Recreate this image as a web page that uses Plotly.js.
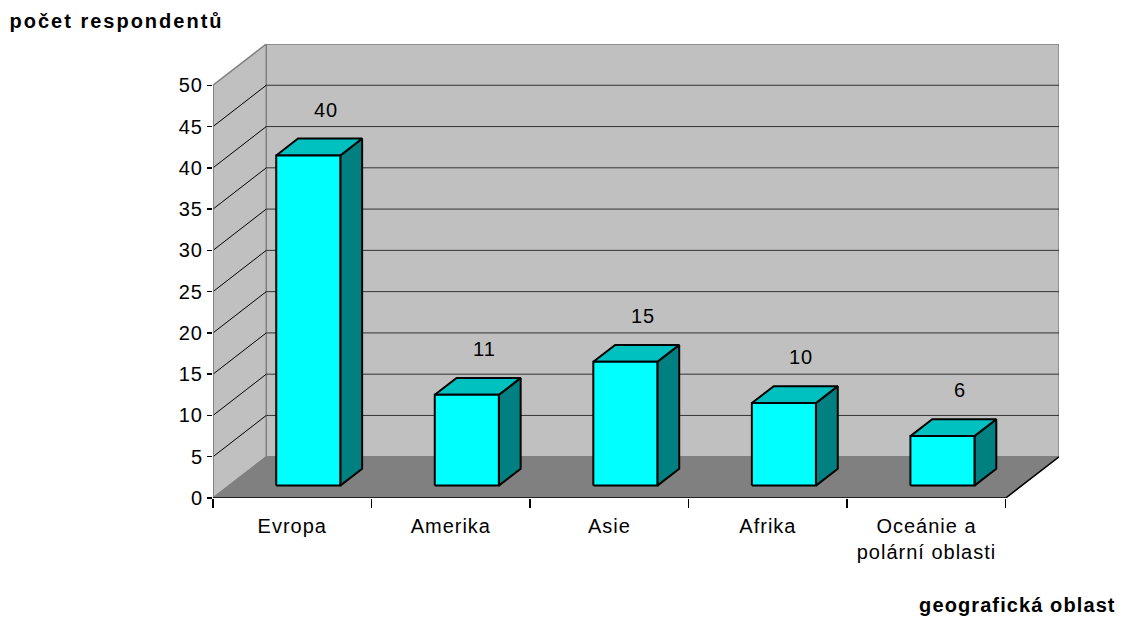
<!DOCTYPE html>
<html><head><meta charset="utf-8">
<script src="https://cdn.plot.ly/plotly-3.0.1.min.js"></script>
<style>
html,body{margin:0;padding:0;background:#fff}
.xtick text, .ytick text, .annotation-text { letter-spacing: 1px; }
.annotation.ttl1 .annotation-text { letter-spacing: 2px; }
.annotation.ttl2 .annotation-text { letter-spacing: 1.1px; }
</style>
</head><body><div id="chart" style="width:1124px;height:617px"></div>
<script>
// ---- data ----
const categories = ['Evropa', 'Amerika', 'Asie', 'Afrika', 'Oceánie a<br>polární oblasti'];
const values = [40, 11, 15, 10, 6];
const yTickValues = [0, 5, 10, 15, 20, 25, 30, 35, 40, 45, 50];
const yAxisTitle = 'počet respondentů';
const xAxisTitle = 'geografická oblast';

// ---- 3D look (axis units) ----
const yMax = 50;
const DX = 0.336, DY = 5;          // depth of the box
const F0 = 0.3, F1 = 0.71, BW = 0.404;
const n = categories.length;
const left = -0.5, right = n - 0.5;
const FONT = 'Liberation Sans, Arial, sans-serif';

const traces = [];
function poly(xs, ys, fill, line, lw) {
  traces.push({type: 'scatter', mode: 'lines', x: [...xs, xs[0]], y: [...ys, ys[0]],
    fill: 'toself', fillcolor: fill, line: {color: line, width: lw},
    hoverinfo: 'skip', showlegend: false});
}
function seg(x0, y0, x1, y1, color, w) {
  traces.push({type: 'scatter', mode: 'lines', x: [x0, x1], y: [y0, y1],
    line: {color: color, width: w}, hoverinfo: 'skip', showlegend: false});
}

// walls & floor
poly([left + DX, right + DX, right + DX, left + DX], [DY, DY, yMax + DY, yMax + DY], '#C0C0C0', '#808080', 1.5);
poly([left, left + DX, left + DX, left], [0, DY, yMax + DY, yMax], '#C0C0C0', '#808080', 1.5);
poly([left, right, right + DX, left + DX], [0, 0, DY, DY], '#808080', '#808080', 1);
yTickValues.forEach(v => {
  if (v > 0 && v < yMax) {
    seg(left + DX, v + DY, right + DX, v + DY, '#333333', 1);
    seg(left, v, left + DX, v + DY, '#000000', 1);
  }
});
seg(left + DX, DY, right + DX, DY, '#808080', 1);
seg(left, 0, left, yMax, '#808080', 1.5);
seg(left, 0, right, 0, '#000000', 1.5);
seg(right, 0, right + DX, DY, '#000000', 1.5);

// bars
values.forEach((v, i) => {
  const xl0 = i + F0 * DX - BW / 2, xr0 = xl0 + BW;
  const xl1 = xl0 + (F1 - F0) * DX, xr1 = xr0 + (F1 - F0) * DX;
  const y0 = F0 * DY, y1 = F1 * DY;
  poly([xr0, xr1, xr1, xr0], [y0, y1, v + y1, v + y0], '#008080', '#000000', 2);
  poly([xl0, xr0, xr1, xl1], [v + y0, v + y0, v + y1, v + y1], '#00C0C0', '#000000', 2);
  poly([xl0, xr0, xr0, xl0], [y0, y0, v + y0, v + y0], '#00FFFF', '#000000', 2);
});

// dummy trace for boundary tick axis
traces.push({type: 'scatter', mode: 'markers', x: [0], y: [0], xaxis: 'x2', marker: {opacity: 0}, hoverinfo: 'skip', showlegend: false});

const boundaries = [];
for (let k = 0; k <= n; k++) boundaries.push(k - 0.5);

const annotations = values.map((v, i) => ({
  x: i + 0.63 * DX, y: v + F1 * DY, xref: 'x', yref: 'y', text: String(v),
  showarrow: false, yshift: 29, font: {family: FONT, size: 20, color: '#000'}
}));
const W = 846.3, H = 454;
annotations.push({xref: 'paper', yref: 'paper', x: (16 - 212.7) / W, y: (498 - 21) / H,
  xanchor: 'left', yanchor: 'middle', text: '<b>' + yAxisTitle + '</b>', showarrow: false,
  font: {family: FONT, size: 20, color: '#000'}});
annotations.push({xref: 'paper', yref: 'paper', x: (918 - 212.7) / W, y: (498 - 605) / H,
  xanchor: 'left', yanchor: 'middle', text: '<b>' + xAxisTitle + '</b>', showarrow: false,
  font: {family: FONT, size: 20, color: '#000'}});

const layout = {
  width: 1124, height: 617,
  margin: {l: 213, r: 65, t: 44, b: 119, pad: 0},
  paper_bgcolor: '#ffffff', plot_bgcolor: 'rgba(0,0,0,0)',
  showlegend: false,
  font: {family: FONT, size: 20, color: '#000'},
  xaxis: {range: [left, right + DX], tickvals: categories.map((c, i) => i), ticktext: categories,
    ticks: 'outside', ticklen: 10, tickcolor: 'rgba(0,0,0,0)', showgrid: false, zeroline: false,
    showline: false, tickfont: {family: FONT, size: 20, color: '#000'}, fixedrange: true},
  xaxis2: {overlaying: 'x', range: [left, right + DX], tickvals: boundaries, ticks: 'outside',
    ticklen: 9, tickwidth: 1.5, tickcolor: '#000', showticklabels: false, showgrid: false,
    zeroline: false, showline: false, side: 'bottom', fixedrange: true},
  yaxis: {range: [0, yMax + DY], tickvals: yTickValues, ticks: 'outside', ticklen: 5,
    tickwidth: 1.5, tickcolor: '#000', showgrid: false, zeroline: false, showline: false,
    tickfont: {family: FONT, size: 20, color: '#000'}, fixedrange: true},
  annotations: annotations
};
Plotly.newPlot('chart', traces, layout, {staticPlot: true, displayModeBar: false}).then(gd => {
  // give the two axis-title annotations their own letter spacing
  const anns = gd.querySelectorAll('.annotation');
  const k = values.length;
  anns.forEach((a, idx) => {
    if (idx === k) a.classList.add('ttl1');
    if (idx === k + 1) a.classList.add('ttl2');
  });
});
</script></body></html>
